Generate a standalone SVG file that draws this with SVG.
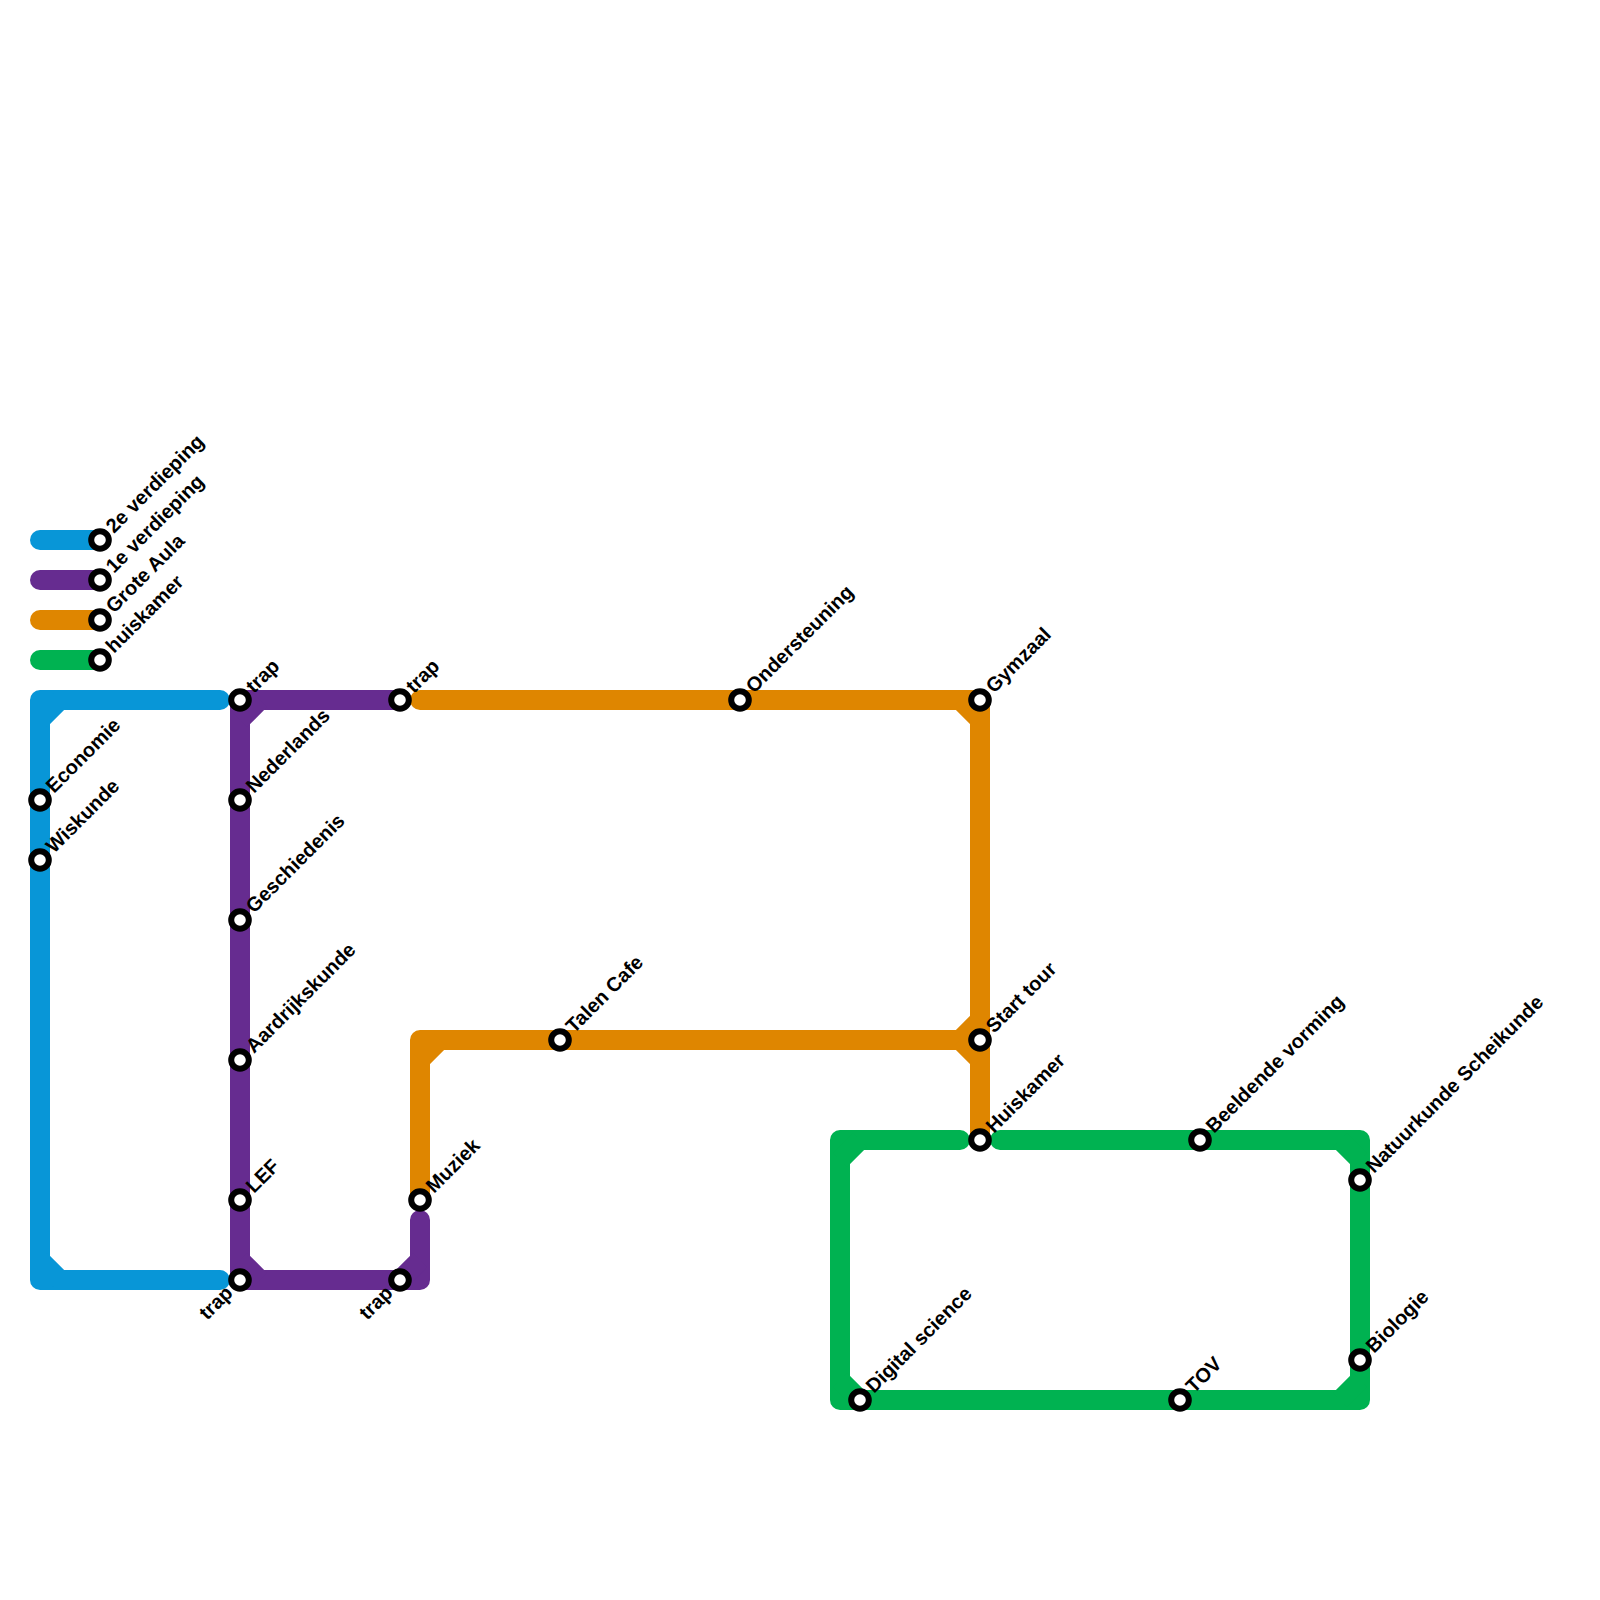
<svg xmlns="http://www.w3.org/2000/svg" width="1600" height="1600" viewBox="0 0 1600 1600">
<style>
.l{fill:none;stroke-width:20;stroke-linecap:round;stroke-linejoin:round}
.c{fill:none;stroke-width:20;stroke-linecap:butt}
.b{stroke:#0896d7}.p{stroke:#662c90}.o{stroke:#df8600}.g{stroke:#00b251}
.s{fill:#fff;stroke:#000;stroke-width:6}
text{font-family:"Liberation Sans",Arial,sans-serif;font-weight:700;font-size:20px;fill:#000}
.e{text-anchor:end}
</style>
<rect width="1600" height="1600" fill="#fff"/>
<g id="connectors">
<path class="l b" d="M40 540H100"/>
<path class="l p" d="M40 580H100"/>
<path class="l o" d="M40 620H100"/>
<path class="l g" d="M40 660H100"/>
<path class="l b" d="M220 700H40V1280H220"/>
<path class="c b" d="M40 720L60 700M40 1260L60 1280"/>
<path class="l p" d="M400 700H240V1280H420V1220"/>
<path class="c p" d="M240 720L260 700M240 1260L260 1280M400 1280L420 1260"/>
<path class="l o" d="M420 700H980V1140"/>
<path class="l o" d="M420 1200V1040H980"/>
<path class="c o" d="M960 700L980 720M960 1040L980 1020M960 1040L980 1060M420 1060L440 1040"/>
<path class="l g" d="M960 1140H840V1400H1360V1140H1000"/>
<path class="c g" d="M840 1160L860 1140M840 1380L860 1400M1340 1140L1360 1160M1340 1400L1360 1380"/>
</g>
<g id="n-2e"><circle class="s" cx="100" cy="540" r="8.8"/><text transform="translate(114 534) rotate(-45)">2e verdieping</text></g>
<g id="n-1e"><circle class="s" cx="100" cy="580" r="8.8"/><text transform="translate(114 574) rotate(-45)">1e verdieping</text></g>
<g id="n-grote-aula"><circle class="s" cx="100" cy="620" r="8.8"/><text transform="translate(114 614) rotate(-45)">Grote Aula</text></g>
<g id="n-huiskamer-legend"><circle class="s" cx="100" cy="660" r="8.8"/><text transform="translate(114 654) rotate(-45)">huiskamer</text></g>
<g id="n-economie"><circle class="s" cx="40" cy="800" r="8.8"/><text transform="translate(54 794) rotate(-45)">Economie</text></g>
<g id="n-wiskunde"><circle class="s" cx="40" cy="860" r="8.8"/><text transform="translate(54 854) rotate(-45)">Wiskunde</text></g>
<g id="n-trap-1"><circle class="s" cx="240" cy="700" r="8.8"/><text transform="translate(254 694) rotate(-45)">trap</text></g>
<g id="n-nederlands"><circle class="s" cx="240" cy="800" r="8.8"/><text transform="translate(254 794) rotate(-45)">Nederlands</text></g>
<g id="n-geschiedenis"><circle class="s" cx="240" cy="920" r="8.8"/><text transform="translate(254 914) rotate(-45)">Geschiedenis</text></g>
<g id="n-aardrijkskunde"><circle class="s" cx="240" cy="1060" r="8.8"/><text transform="translate(254 1054) rotate(-45)">Aardrijkskunde</text></g>
<g id="n-lef"><circle class="s" cx="240" cy="1200" r="8.8"/><text transform="translate(254 1194) rotate(-45)">LEF</text></g>
<g id="n-trap-2"><circle class="s" cx="240" cy="1280" r="8.8"/><text class="e" transform="translate(234 1294) rotate(-45)">trap</text></g>
<g id="n-trap-3"><circle class="s" cx="400" cy="1280" r="8.8"/><text class="e" transform="translate(394 1294) rotate(-45)">trap</text></g>
<g id="n-trap-4"><circle class="s" cx="400" cy="700" r="8.8"/><text transform="translate(414 694) rotate(-45)">trap</text></g>
<g id="n-muziek"><circle class="s" cx="420" cy="1200" r="8.8"/><text transform="translate(434 1194) rotate(-45)">Muziek</text></g>
<g id="n-talen-cafe"><circle class="s" cx="560" cy="1040" r="8.8"/><text transform="translate(574 1034) rotate(-45)">Talen Cafe</text></g>
<g id="n-ondersteuning"><circle class="s" cx="740" cy="700" r="8.8"/><text transform="translate(754 694) rotate(-45)">Ondersteuning</text></g>
<g id="n-gymzaal"><circle class="s" cx="980" cy="700" r="8.8"/><text transform="translate(994 694) rotate(-45)">Gymzaal</text></g>
<g id="n-start-tour"><circle class="s" cx="980" cy="1040" r="8.8"/><text transform="translate(994 1034) rotate(-45)">Start tour</text></g>
<g id="n-huiskamer"><circle class="s" cx="980" cy="1140" r="8.8"/><text transform="translate(994 1134) rotate(-45)">Huiskamer</text></g>
<g id="n-beeldende-vorming"><circle class="s" cx="1200" cy="1140" r="8.8"/><text transform="translate(1214 1134) rotate(-45)">Beeldende vorming</text></g>
<g id="n-natuurkunde"><circle class="s" cx="1360" cy="1180" r="8.8"/><text transform="translate(1374 1174) rotate(-45)">Natuurkunde Scheikunde</text></g>
<g id="n-biologie"><circle class="s" cx="1360" cy="1360" r="8.8"/><text transform="translate(1374 1354) rotate(-45)">Biologie</text></g>
<g id="n-digital-science"><circle class="s" cx="860" cy="1400" r="8.8"/><text transform="translate(874 1394) rotate(-45)">Digital science</text></g>
<g id="n-tov"><circle class="s" cx="1180" cy="1400" r="8.8"/><text transform="translate(1194 1394) rotate(-45)">TOV</text></g>
</svg>
